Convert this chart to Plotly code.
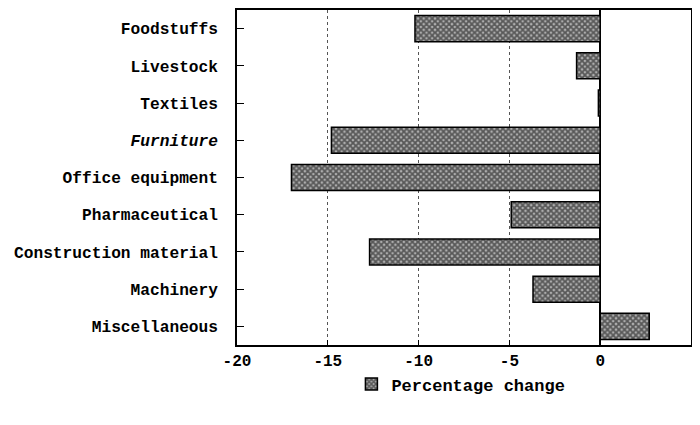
import plotly.graph_objects as go

categories = ["Foodstuffs", "Livestock", "Textiles", "Furniture", "Office equipment",
              "Pharmaceutical", "Construction material", "Machinery", "Miscellaneous"]
values = [-10.2, -1.3, -0.1, -14.8, -17.0, -4.9, -12.7, -3.7, 2.7]
tick_labels = ["Foodstuffs", "Livestock", "Textiles", "<i>Furniture</i>", "Office equipment",
               "Pharmaceutical", "Construction material", "Machinery", "Miscellaneous"]
x_ticks = [-20, -15, -10, -5, 0, 5]
series_name = "Percentage change"

font_family = "Liberation Mono"

fig = go.Figure()
fig.add_trace(go.Bar(
    y=categories, x=values, orientation="h", name=series_name,
    width=0.7,
    marker=dict(
        color="#777777",
        line=dict(color="black", width=1.5),
        pattern=dict(shape="x", size=4, solidity=0.7, fgcolor="#000000", bgcolor="#b0b0b0"),
    ),
    showlegend=True,
))

fig.update_layout(
    width=684, height=409,
    margin=dict(l=229, r=1, t=2, b=72, autoexpand=False),
    plot_bgcolor="white", paper_bgcolor="white",
    font=dict(family=font_family, size=16, color="black", weight="bold"),
    showlegend=True,
    legend=dict(orientation="h", x=0.252, xanchor="left", y=-0.064, yanchor="top",
                font=dict(size=17, family=font_family, weight="bold"),
                itemwidth=30),
    bargap=0.3,
)
fig.update_xaxes(
    range=[-20, 5], tickvals=x_ticks, ticktext=[str(v) for v in x_ticks],
    showgrid=True, gridcolor="#555555", griddash="dot", gridwidth=1,
    zeroline=True, zerolinecolor="black", zerolinewidth=1.5,
    showline=True, linecolor="black", linewidth=1.5, mirror=True,
    ticks="inside", ticklen=5, tickcolor="black",
    automargin=False,
    tickfont=dict(size=16, family=font_family, weight="bold"),
)
fig.update_yaxes(
    categoryorder="array", categoryarray=categories,
    tickvals=categories, ticktext=tick_labels,
    range=[8.5, -0.5], autorange=False,
    showgrid=False, zeroline=False,
    showline=True, linecolor="black", linewidth=1.5, mirror=True,
    ticks="inside", ticklen=7, tickcolor="black",
    ticklabelstandoff=14,
    automargin=False,
    tickfont=dict(size=16.2, family=font_family, weight="bold"),
)

fig.write_html("out.html")
